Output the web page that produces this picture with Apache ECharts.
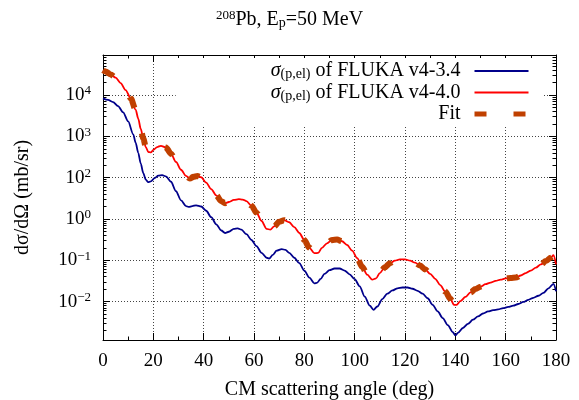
<!DOCTYPE html>
<html><head><meta charset="utf-8">
<script src="https://cdn.jsdelivr.net/npm/echarts@6/dist/echarts.min.js"></script>
<style>html,body{margin:0;padding:0;background:#fff}#c{width:579px;height:400px}</style>
</head><body><div id="c"></div>
<script>
// ---- data ----
const redAngles = [0,1,3,5,7,9,11,13,14,15,16,17,18,19,20,21.5,23,25,27,29,31,33,34.5,36,37.5,39,41,43,45,47,48.5,50,52,54,55.5,57,59,61,63,65,66.5,68,70,72,74,76,78,80,82,84,85.5,87,89,91,93,95,97,99,101,103,105,107,108.5,110,112,114,116,118,120,122,124,126,128,130,132,134,136,138,139.5,140.5,142,144,146,148,150,152,154,156,158,160,162,164,166,168,170,172,174,176,178,179,180];
const redValues = [39800,37200,31600,26300,19500,13200,8320,4370,2690,1510,891,550,417,407,468,550,589,537,380,240,155,110,95.5,105,110,102,75.9,52.5,37.2,26.9,24.0,25.7,28.8,30.2,29.5,26.9,20.9,14.1,8.91,5.75,5.50,6.61,8.51,9.33,8.32,6.31,4.57,3.09,2.00,1.48,1.51,2.00,2.57,3.09,3.16,2.88,2.34,1.70,1.12,0.692,0.447,0.339,0.363,0.490,0.676,0.851,0.977,1.05,1.05,0.977,0.871,0.741,0.603,0.468,0.355,0.251,0.174,0.117,0.0832,0.0832,0.102,0.129,0.166,0.200,0.229,0.263,0.288,0.316,0.339,0.363,0.372,0.380,0.427,0.490,0.562,0.661,0.794,0.955,1.17,1.32,0.794];
const blueAngles = [0,2,4,6,8,10,12,13,14,15,16,17,18,19,20.5,22,23.5,25,27,29,31,33,34,35.5,37,39,41,43,45,47,48.5,50,52,53.5,55,57,59,61,63,65,66,67.5,69,71,72.5,74,76,78,80,82,84,85,86.5,88,90,92,94,96,98,100,102,104,106,107.5,109,111,113,115,117,119,121,123,125,127,129,131,133,135,137,139,140,141,143,145,147,149,151,153,155,157,159,161,163,165,167,169,171,173,175,177,179,180];
const blueValues = [8320,7590,6760,5370,3800,2290,1120,692,398,219,129,89.1,77.6,81.3,97.7,112,115,107,79.4,46.8,28.2,20.4,19.5,20.4,21.4,20.0,15.8,11.0,7.41,5.25,4.57,4.90,5.75,5.89,5.50,4.27,3.09,2.19,1.51,1.15,1.10,1.35,1.70,1.86,1.78,1.51,1.15,0.851,0.562,0.380,0.275,0.282,0.355,0.468,0.575,0.631,0.631,0.562,0.457,0.347,0.234,0.132,0.0794,0.0631,0.0759,0.115,0.155,0.186,0.209,0.219,0.219,0.204,0.182,0.155,0.120,0.0832,0.0575,0.0398,0.0269,0.0182,0.0151,0.0174,0.0229,0.0288,0.0363,0.0437,0.0513,0.0575,0.0617,0.0646,0.0692,0.0741,0.0794,0.0871,0.0977,0.110,0.123,0.138,0.162,0.209,0.269,0.178];
const fitAngles = redAngles.slice(0, -1);
const fitValues = redValues.slice(0, -1);
const seriesNames = ['v34', 'v40', 'fit'];
const seriesLabels = ['of FLUKA v4-3.4', 'of FLUKA v4-4.0', 'Fit'];
const xTickStep = 20;
const yTickValues = [1e4, 1e3, 1e2, 1e1, 1, 0.1];
const yTickExponents = ['4', '3', '2', '0', '\u22121', '\u22122'];

// ---- layout / style ----
const FONT = "'Liberation Serif', serif";
const FS = 19;   // tick labels
const FT = 20;   // names, legend, title
const yMin = 0.01172, yMax = 93100;
const logMin = Math.log10(yMin), logMax = Math.log10(yMax);
const minorVals = [];
for (let k = -2; k <= 4; k++) for (let m = 2; m <= 9; m++) {
  const v = Math.log10(m) + k;
  if (v > logMin && v < logMax) minorVals.push(v);
}
function yLabel(v) {
  for (let i = 0; i < yTickValues.length; i++) {
    if (Math.abs(Math.log10(v) - Math.log10(yTickValues[i])) < 1e-6) return '{b|10}{s|' + yTickExponents[i] + '}';
  }
  return '';
}
const baseStyle = {fontFamily: FONT, fontSize: FS, color: '#000', fontWeight: 'normal'};
const textStyle = {fontFamily: FONT, fontSize: FT, color: '#000', fontWeight: 'normal'};
const supStyle = {fontFamily: FONT, fontSize: 13, color: '#000', fontWeight: 'normal', padding: [0, 0, 8, 0]};
const subStyle = {fontFamily: FONT, fontSize: 14, color: '#000', fontWeight: 'normal', padding: [7, 0, 0, 0]};
const blk = {color: '#000', width: 1};
const gridLine = {show: true, lineStyle: {color: '#444', type: [1, 2], width: 1}};
const zip = (a, b) => a.map((x, i) => [x, b[i]]);

const xBase = {type: 'value', min: 0, max: 180, interval: xTickStep,
  axisLine: {show: true, onZero: false, lineStyle: blk},
  axisTick: {inside: true, length: 7, lineStyle: blk},
  minorTick: {show: true, splitNumber: 2, length: 3.5, lineStyle: blk}};

const option = {
  animation: false,
  backgroundColor: '#fff',
  title: {text: '{s|208}{t|Pb, E}{u|p}{t|=50 MeV}', left: 'center', top: 9, padding: 0,
    textStyle: {fontWeight: 'normal', rich: {s: supStyle, t: textStyle, u: subStyle}}},
  grid: {left: 103, right: 23, top: 55, bottom: 60, containLabel: false, outerBoundsMode: 'none'},
  legend: {
    orient: 'vertical', right: 36, top: 58, align: 'right',
    backgroundColor: '#fff', padding: [3, 12, 2, 95],
    itemWidth: 54, itemHeight: 14, itemGap: 1, selectedMode: false,
    itemStyle: {opacity: 0},
    data: [
      {name: 'v34', lineStyle: {width: 2}},
      {name: 'v40', lineStyle: {width: 2}},
      {name: 'fit', lineStyle: {width: 5}}
    ],
    formatter: function (name) {
      const i = seriesNames.indexOf(name);
      if (i < 2) return '{g|\u03c3}{u|(p,el)}{t| ' + seriesLabels[i] + '}{sp|}';
      return '{t|' + seriesLabels[i] + '}{sp|}';
    },
    textStyle: {fontFamily: FONT, fontSize: FT, color: '#000', rich: {
      g: {fontFamily: FONT, fontSize: FT, fontStyle: 'italic', color: '#000', lineHeight: 20},
      u: subStyle, t: Object.assign({lineHeight: 20}, textStyle), sp: {width: 9}}}
  },
  xAxis: [
    Object.assign({}, xBase, {position: 'bottom',
      axisLabel: {fontFamily: FONT, fontSize: FS, color: '#000', margin: 12},
      splitLine: gridLine,
      name: 'CM scattering angle (deg)', nameLocation: 'middle', nameGap: 40,
      nameTextStyle: textStyle}),
    Object.assign({}, xBase, {position: 'top', axisLabel: {show: false}, splitLine: {show: false}})
  ],
  yAxis: [
    {type: 'log', logBase: 10, min: yMin, max: yMax, position: 'left',
      axisLine: {show: true, onZero: false, lineStyle: blk}, axisTick: {inside: true, length: 7, lineStyle: blk},
      minorTick: {show: false},
      axisLabel: {formatter: yLabel, margin: 12, rich: {b: baseStyle, s: supStyle}},
      splitLine: gridLine,
      name: 'd\u03c3/d\u03a9 (mb/sr)', nameLocation: 'middle', nameGap: 70, nameRotate: 90,
      nameTextStyle: textStyle},
    {type: 'log', logBase: 10, min: yMin, max: yMax, position: 'right',
      axisLine: {show: true, onZero: false, lineStyle: blk}, axisTick: {inside: true, length: 7, lineStyle: blk},
      minorTick: {show: false}, axisLabel: {show: false}, splitLine: {show: false}},
    {type: 'value', min: logMin, max: logMax, position: 'left',
      axisLine: {show: false, onZero: false}, axisTick: {inside: true, length: 3.5, lineStyle: blk, customValues: minorVals},
      axisLabel: {show: false}, splitLine: {show: false}},
    {type: 'value', min: logMin, max: logMax, position: 'right',
      axisLine: {show: false, onZero: false}, axisTick: {inside: true, length: 3.5, lineStyle: blk, customValues: minorVals},
      axisLabel: {show: false}, splitLine: {show: false}}
  ],
  series: [
    {name: 'v34', type: 'line', data: zip(blueAngles, blueValues), symbol: 'none', smooth: 0.3, smoothMonotone: 'x',
      lineStyle: {color: '#00008b', width: 1.8}, itemStyle: {color: '#00008b'}, z: 2},
    {name: 'v40', type: 'line', data: zip(redAngles, redValues), symbol: 'none', smooth: 0.3, smoothMonotone: 'x',
      lineStyle: {color: '#ff0000', width: 1.8}, itemStyle: {color: '#ff0000'}, z: 3},
    {name: 'fit', type: 'line', data: zip(fitAngles, fitValues), symbol: 'none', smooth: 0.3, smoothMonotone: 'x',
      lineStyle: {color: '#c04000', width: 6, type: [12, 27], cap: 'butt'}, itemStyle: {color: '#c04000'}, z: 4}
  ]
};
const chart = echarts.init(document.getElementById('c'), null, {renderer: 'canvas'});
chart.setOption(option);
</script></body></html>
